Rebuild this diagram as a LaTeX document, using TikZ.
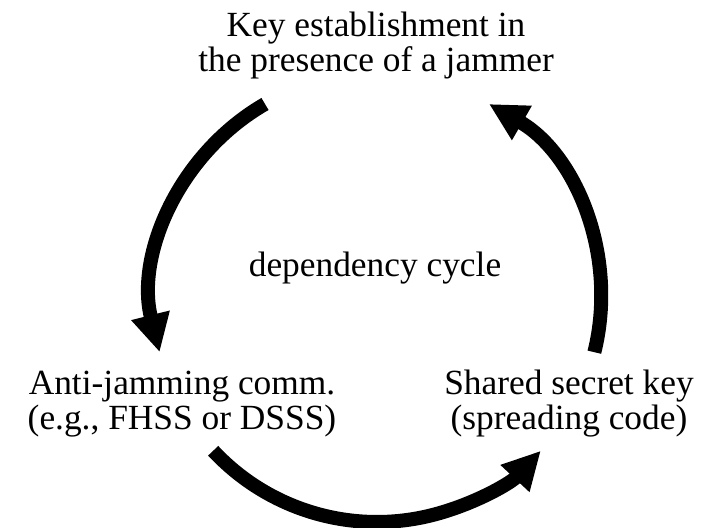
\documentclass[tikz,border=0pt]{standalone}
\usepackage{fontspec}
\setmainfont{Liberation Serif}
\usetikzlibrary{arrows.meta}
\begin{document}
\begin{tikzpicture}[x=1bp,y=1bp,
  txt/.style={font=\fontsize{35.5}{35.5}\selectfont, align=center, inner sep=0pt, anchor=base},
  cyclearrow/.style={line width=14bp, line cap=butt,
    -{Triangle[length=38bp,width=37bp]}}]
\useasboundingbox (0,0) rectangle (710,528);
% centre of the cycle
\coordinate (c) at (377,230);
% the three stages and the caption (anchored at the last line's baseline)
\node[txt] (key)    at (376,456.3) {Key establishment in\\the presence of a jammer};
\node[txt] (anti)   at (182,98)    {Anti-jamming comm.\\(e.g., FHSS or DSSS)};
\node[txt] (shared) at (569,98)    {Shared secret key\\(spreading code)};
\node[txt] (cycle)  at (375,251)   {dependency cycle};
% arcs of the cycle
\draw[cyclearrow] ([shift={(120:224)}]c) arc[start angle=120, end angle=194, radius=224];
\draw[cyclearrow] ([shift={(223:224)}]c) arc[start angle=223, end angle=317, radius=224];
\draw[cyclearrow] ([shift={(346:224)}]c) arc[start angle=346, end angle=420, radius=224];
\end{tikzpicture}
\end{document}
